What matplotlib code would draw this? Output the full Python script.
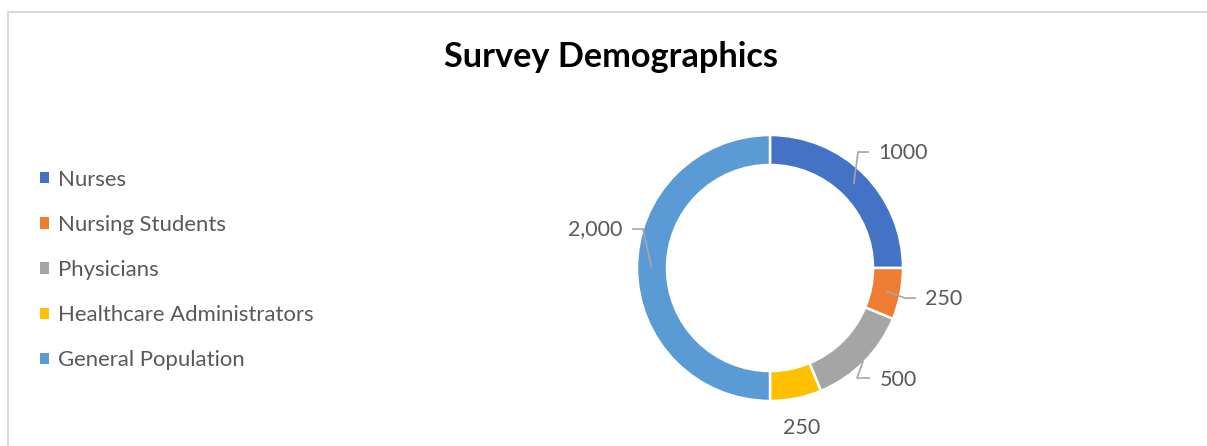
import numpy as np
import matplotlib.pyplot as plt
from matplotlib.lines import Line2D
from matplotlib.patches import Patch

groups = ["Nurses", "Nursing Students", "Physicians",
          "Healthcare Administrators", "General Population"]
counts = [1000, 250, 500, 250, 2000]
value_labels = ["1000", "250", "500", "250", "2,000"]
colors = ["#4472C4", "#ED7D31", "#A5A5A5", "#FFC000", "#5B9BD5"]

W, H = 1207, 446
R = 133.0           # outer radius in px
cx, cy = 770, 268   # donut centre in px (from top)

# label layout in radius units: (start radius, elbow, end, text pos, ha)
label_layout = [
    (0.89, (0.662, 0.872), (0.744, 0.872), (0.815, 0.865), "left"),
    (0.89, (1.015, -0.226), (1.098, -0.226), (1.168, -0.233), "left"),
    (0.99, (0.654, -0.827), (0.752, -0.827), (0.822, -0.842), "left"),
    (None, None, None, (0.241, -1.2), "center"),
    (0.89, (-0.955, 0.293), (-1.038, 0.293), (-1.108, 0.293), "right"),
]

plt.rcParams['font.family'] = ['Lato', 'DejaVu Sans']
txt_color = "#595959"

fig = plt.figure(figsize=(W / 100, H / 100), dpi=100)
ax = fig.add_axes([0, 0, 1, 1])

wedges, _ = ax.pie(counts, colors=colors, startangle=90, counterclock=False,
                   radius=1.0, wedgeprops=dict(width=30 / R, edgecolor="white", linewidth=1.8))
ax.set_aspect("auto")
ax.set_xlim(-cx / R, (W - cx) / R)
ax.set_ylim(-(H - cy) / R, cy / R)
ax.axis("off")

total = float(sum(counts))
cum = 0.0
for i, (val, lab) in enumerate(zip(counts, value_labels)):
    mid = 90 - (cum + val / 2) / total * 360
    cum += val
    r0, elbow, end, tpos, ha = label_layout[i]
    if elbow is not None:
        sx, sy = r0 * np.cos(np.radians(mid)), r0 * np.sin(np.radians(mid))
        ax.plot([sx, elbow[0], end[0]], [sy, elbow[1], end[1]],
                color="#A6A6A6", lw=1.2, solid_capstyle="butt")
    ax.text(tpos[0], tpos[1], lab, ha=ha, va="center", fontsize=15.5, color=txt_color)

# legend
handles = [Patch(facecolor=c, edgecolor="none") for c in colors]
fig.legend(handles, groups, loc="center left", bbox_to_anchor=(20 / W, 1 - 270 / H),
           frameon=False, fontsize=15.9, labelcolor=txt_color, handlelength=0.42,
           handleheight=0.42, handletextpad=0.42, labelspacing=1.14)

fig.text(611 / W, 1 - 57 / H, "Survey Demographics", ha="center", va="center",
         fontsize=24.7, fontweight="bold", color="black")

# chart frame (top and left edges visible)
fig.add_artist(Line2D([8 / W, 8 / W, 1], [0, 1 - 11.5 / H, 1 - 11.5 / H],
                      transform=fig.transFigure, color="#D9D9D9", lw=1.5))

fig.savefig("out.png", dpi=100, facecolor="white")
